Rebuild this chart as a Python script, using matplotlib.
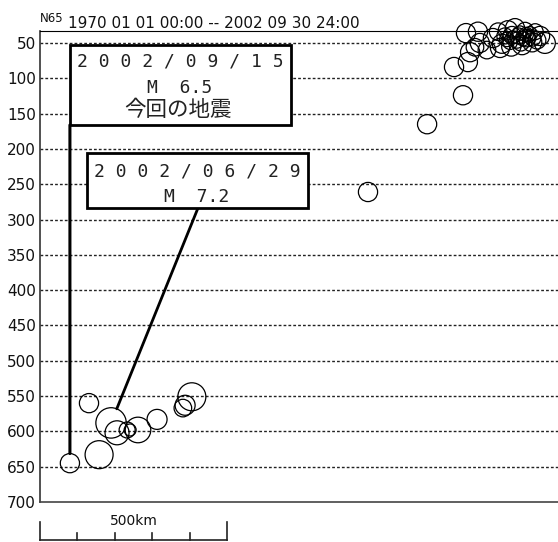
import matplotlib
matplotlib.use("Agg")
import matplotlib.pyplot as plt
from matplotlib.patches import Rectangle
from matplotlib import transforms

plt.rcParams['font.family'] = ['DejaVu Sans']

# hypocentres: distance along section (km), depth (km), magnitude
dist_km = [80, 131, 190, 158, 206, 233, 241, 262, 313, 406, 388, 382,
           877, 1035, 1131, 1107, 1144, 1150, 1139, 1171, 1176, 1163,
           1211, 1225, 1235, 1243, 1251, 1257, 1262, 1270, 1275, 1283,
           1289, 1297, 1302, 1310, 1316, 1324, 1329, 1337, 1350, 1195,
           1248, 1266, 1279, 1292, 1306, 1260, 1286, 1300, 1230, 1318]
depth_km = [645, 560, 588, 633, 602, 598, 598, 598, 583, 551, 563, 567,
            261, 165, 124, 84, 77, 63, 36, 34, 50, 56,
            43, 34, 51, 40, 32, 49, 39, 29, 46, 36,
            53, 32, 43, 37, 49, 34, 46, 40, 50, 60,
            45, 42, 40, 44, 41, 55, 50, 38, 57, 43]
mag = [6.5, 6.5, 7.2, 7.05, 6.8, 6.3, 6.05, 6.9, 6.55, 7.05, 6.55, 6.4,
       6.5, 6.5, 6.5, 6.5, 6.5, 6.5, 6.5, 6.5, 6.5, 6.4,
       6.5, 6.4, 6.5, 6.3, 6.5, 6.2, 6.4, 6.5, 6.3, 6.2,
       6.5, 6.3, 6.4, 6.2, 6.5, 6.3, 6.4, 6.5, 6.6, 6.4,
       6.2, 6.1, 6.3, 6.2, 6.1, 6.5, 6.3, 6.2, 6.5, 6.3]

depth_ticks = [50, 100, 150, 200, 250, 300, 350, 400, 450, 500, 550, 600, 650, 700]
scale_ticks = [0, 100, 200, 300, 400, 500]

title_id = "N65"
title_period = "1970 01 01 00:00 -- 2002 09 30 24:00"

# labelled events (index into the lists above)
ev_now = 0
ev_now_text = ["2 0 0 2 / 0 9 / 1 5", "M  6.5", "今回の地震"]
ev_big = 2
ev_big_text = ["2 0 0 2 / 0 6 / 2 9", "M  7.2"]

W, H = 558, 542
fig = plt.figure(figsize=(W / 100, H / 100), dpi=100)
ax = fig.add_axes([40 / W, (H - 502) / H, (W - 40) / W, (502 - 31) / H])
ax.set_xlim(0, 1385)
ax.set_ylim(700, 33)


def radius_pt(m):
    return (m - 5.3) * 8 * 0.72


# grid
for d in depth_ticks[:-1]:
    ax.axhline(d, color='#222222', lw=1.0, dashes=(2, 1.5), zorder=1)

sizes = [(2 * radius_pt(m)) ** 2 for m in mag]
ax.scatter(dist_km, depth_km, s=sizes, facecolors='none', edgecolors='black',
           linewidths=0.9, clip_on=False, zorder=3)

ax.set_xticks([])
ax.set_yticks(depth_ticks)
ax.tick_params(axis='y', length=0, pad=3, labelsize=11, labelcolor='#111111')
ax.spines['right'].set_visible(False)
ax.spines['top'].set_linewidth(0.8)
ax.spines['left'].set_linewidth(1.2)
ax.spines['left'].set_color('#333333')
ax.spines['bottom'].set_linewidth(1.2)
ax.spines['bottom'].set_color('#444444')

# title
fig.text(40 / W, 1 - 22 / H, title_id, fontsize=8.5, va='baseline', color='#111111')
fig.text(68 / W, 1 - 28 / H, title_period, fontsize=11, va='baseline', color='#111111')


def fpx(x, y):
    return x / W, 1 - y / H


# label boxes
box1 = Rectangle(fpx(70, 125), 221 / W, 80 / H, transform=fig.transFigure,
                 facecolor='white', edgecolor='black', lw=2.0, zorder=4)
box2 = Rectangle(fpx(87, 208), 221 / W, 55 / H, transform=fig.transFigure,
                 facecolor='white', edgecolor='black', lw=2.0, zorder=4)
fig.add_artist(box1)
fig.add_artist(box2)

mono = dict(family='DejaVu Sans Mono', fontsize=13, ha='center', va='center',
            color='#222222', zorder=5)
fig.text(*fpx(180, 62), ev_now_text[0], **mono)
fig.text(*fpx(180, 88), ev_now_text[1], **mono)
fig.text(*fpx(178, 110), ev_now_text[2], family=['Noto Sans CJK JP', 'DejaVu Sans'],
         fontsize=15.5, ha='center', va='center', color='#222222', zorder=5)
fig.text(*fpx(197, 172), ev_big_text[0], **mono)
fig.text(*fpx(197, 197), ev_big_text[1], **mono)

# connectors from boxes to events
ax.annotate('', xy=(dist_km[ev_now], depth_km[ev_now]),
            xytext=(dist_km[ev_now], H - 125), textcoords=('data', 'figure pixels'),
            arrowprops=dict(arrowstyle='-', lw=2.2, color='black', shrinkA=0,
                            shrinkB=radius_pt(mag[ev_now])), annotation_clip=False)
ax.annotate('', xy=(dist_km[ev_big], depth_km[ev_big]),
            xytext=(198, H - 208), textcoords='figure pixels',
            arrowprops=dict(arrowstyle='-', lw=2.0, color='black', shrinkA=0,
                            shrinkB=radius_pt(mag[ev_big])), annotation_clip=False)

# scale bar
tr = transforms.blended_transform_factory(ax.transData, transforms.IdentityTransform())
ax.plot([scale_ticks[0], scale_ticks[-1]], [2, 2], color='#222222', lw=1.2,
        transform=tr, clip_on=False)
for i, t in enumerate(scale_ticks):
    top = 20 if i in (0, len(scale_ticks) - 1) else 9
    ax.plot([t, t], [2, top], color='#222222', lw=1.2, transform=tr, clip_on=False)
ax.text(scale_ticks[-1] / 2, 21, "500km", fontsize=10, ha='center', va='center',
        transform=tr, color='#111111')

fig.savefig("out.png", dpi=100)
